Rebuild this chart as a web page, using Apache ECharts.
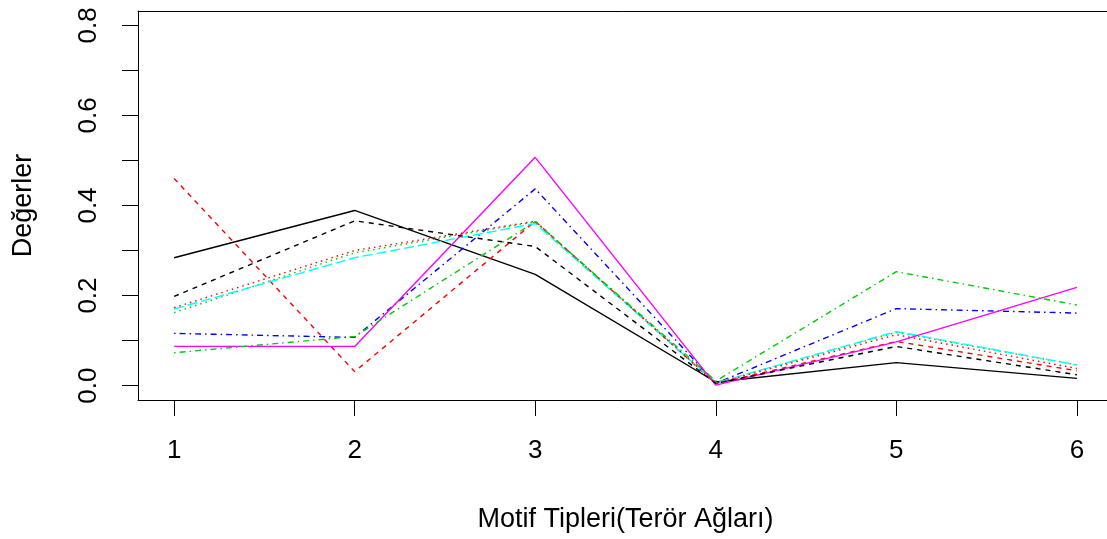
<!DOCTYPE html>
<html>
<head>
<meta charset="utf-8">
<script src="https://cdn.jsdelivr.net/npm/echarts@6/dist/echarts.min.js"></script>
<style>
html,body{margin:0;padding:0;background:#fff;}
#chart{width:1107px;height:539px;}
</style>
</head>
<body>
<div id="chart"></div>
<script>
// ---- data ----
const xValues = [1, 2, 3, 4, 5, 6];
const yTickValues = [0, 0.1, 0.2, 0.3, 0.4, 0.5, 0.6, 0.7, 0.8];
const yLabelValues = [0, 0.2, 0.4, 0.6, 0.8];
const xTitle = 'Motif Tipleri(Terör Ağları)';
const yTitle = 'Değerler';

const s1BlackSolid   = [0.284, 0.389, 0.247, 0.008, 0.051, 0.016];
const s2RedDashed    = [0.460, 0.031, 0.365, 0.004, 0.098, 0.033];
const s3GreenDotted  = [0.162, 0.295, 0.364, 0.006, 0.118, 0.046];
const s4BlueDotDash  = [0.116, 0.107, 0.437, 0.005, 0.171, 0.161];
const s5CyanLongDash = [0.170, 0.284, 0.360, 0.006, 0.120, 0.046];
const s6MagentaSolid = [0.087, 0.087, 0.507, 0.001, 0.097, 0.218];
const s7BlackDashed  = [0.198, 0.366, 0.309, 0.005, 0.087, 0.024];
const s8RedDotted    = [0.173, 0.300, 0.365, 0.005, 0.113, 0.038];
const s9GreenDotDash = [0.073, 0.109, 0.364, 0.010, 0.253, 0.179];

// ---- styles ----
const FONT = '"Liberation Sans", Arial, sans-serif';
const DASH = [5, 5], DOT = [1.5, 4], DOTDASH = [1.5, 4, 6, 4], LONGDASH = [10, 4];
const seriesDefs = [
  {data: s1BlackSolid,   color: '#000000', type: 'solid'},
  {data: s2RedDashed,    color: '#FF0000', type: DASH},
  {data: s3GreenDotted,  color: '#00CD00', type: DOT},
  {data: s4BlueDotDash,  color: '#0000FF', type: DOTDASH},
  {data: s5CyanLongDash, color: '#00FFFF', type: LONGDASH},
  {data: s6MagentaSolid, color: '#FF00FF', type: 'solid'},
  {data: s7BlackDashed,  color: '#000000', type: DASH},
  {data: s8RedDotted,    color: '#FF0000', type: DOT},
  {data: s9GreenDotDash, color: '#00CD00', type: DOTDASH}
];

const chart = echarts.init(document.getElementById('chart'), null, {renderer: 'canvas'});
const axisColor = '#000';
const option = {
  animation: false,
  backgroundColor: '#fff',
  grid: {left: 138, top: 11, width: 975, height: 389, show: false,
         outerBoundsMode: 'none', containLabel: false},
  xAxis: [{
    type: 'value', min: 0.8, max: 6.2,
    axisLine: {show: true, onZero: false, lineStyle: {color: axisColor, width: 1}},
    axisTick: {show: true, length: 16, customValues: xValues, lineStyle: {color: axisColor, width: 1}},
    axisLabel: {customValues: xValues, fontSize: 26, fontFamily: FONT, color: '#000', margin: 38},
    splitLine: {show: false},
    name: xTitle, nameLocation: 'middle', nameGap: 106,
    nameTextStyle: {fontSize: 27, fontFamily: FONT, color: '#000'}
  }, {
    type: 'value', min: 0.8, max: 6.2, position: 'top',
    axisLine: {show: true, onZero: false, lineStyle: {color: axisColor, width: 1}},
    axisTick: {show: false}, axisLabel: {show: false}, splitLine: {show: false}
  }],
  yAxis: {
    type: 'value', min: -0.032, max: 0.832,
    axisLine: {show: true, onZero: false, lineStyle: {color: axisColor, width: 1}},
    axisTick: {show: true, length: 16, customValues: yTickValues, lineStyle: {color: axisColor, width: 1}},
    axisLabel: {customValues: yLabelValues, rotate: 90, fontSize: 26, fontFamily: FONT, color: '#000', margin: 36,
                formatter: v => Number(v).toFixed(1)},
    splitLine: {show: false},
    name: yTitle, nameLocation: 'middle', nameGap: 101, nameRotate: 90,
    nameTextStyle: {fontSize: 27, fontFamily: FONT, color: '#000'}
  },
  series: seriesDefs.map((d, i) => ({
    type: 'line', name: 's' + (i + 1), xAxisIndex: 0,
    data: d.data.map((v, k) => [xValues[k], v]),
    symbol: 'none', silent: true,
    lineStyle: {color: d.color, width: 1.4, type: d.type}
  }))
};
chart.setOption(option);
</script>
</body>
</html>
